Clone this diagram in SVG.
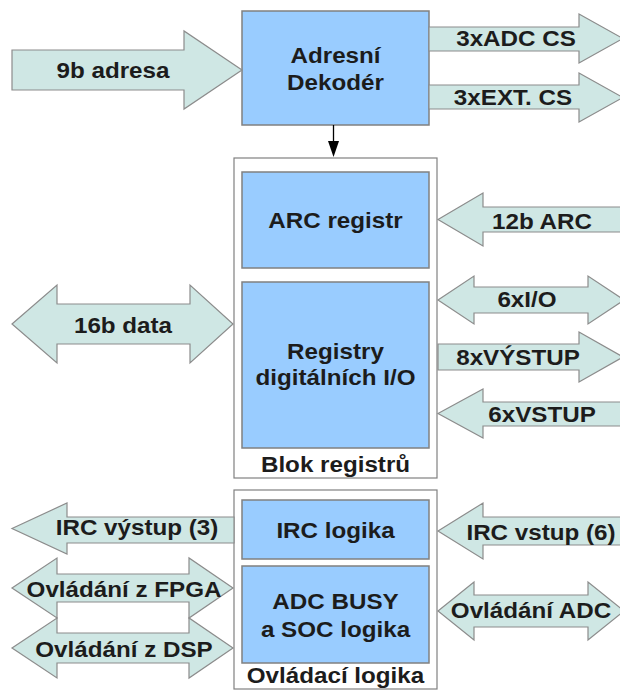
<svg xmlns="http://www.w3.org/2000/svg" width="620" height="690" viewBox="0 0 620 690">
<style>
.box{fill:#99ccff;stroke:#808080;stroke-width:1.5}
.cont{fill:#ffffff;stroke:#808080;stroke-width:1.2}
.arr{fill:#cfe7e4;stroke:#8c8c8c;stroke-width:1.2;stroke-linejoin:miter}
.t{font-family:"Liberation Sans",Arial,sans-serif;font-weight:bold;font-size:22px;fill:#1c1c1c;text-anchor:middle}
</style>
<rect width="620" height="690" fill="#ffffff"/>
<g id="decoder">
<rect class="box" x="242" y="11" width="187" height="114"/>
<text class="t" transform="translate(335.5 63) scale(1.1 1)">Adresní</text>
<text class="t" transform="translate(335.5 90) scale(1.1 1)">Dekodér</text>
</g>
<g id="blok-registru">
<rect class="cont" x="234" y="158" width="203" height="320"/>
<text class="t" transform="translate(335.5 472) scale(1.1 1)">Blok registrů</text>
</g>
<g id="arc-registr">
<rect class="box" x="242" y="172" width="187" height="96"/>
<text class="t" transform="translate(335.5 228) scale(1.1 1)">ARC registr</text>
</g>
<g id="registry-io">
<rect class="box" x="242" y="282" width="187" height="166"/>
<text class="t" transform="translate(335.5 359) scale(1.1 1)">Registry</text>
<text class="t" transform="translate(335.5 385) scale(1.1 1)">digitálních I/O</text>
</g>
<g id="ovladaci-logika">
<rect class="cont" x="234" y="490" width="203" height="199"/>
<text class="t" transform="translate(335.5 683) scale(1.1 1)">Ovládací logika</text>
</g>
<g id="irc-logika">
<rect class="box" x="242" y="500" width="187" height="59"/>
<text class="t" transform="translate(335.5 538) scale(1.1 1)">IRC logika</text>
</g>
<g id="adc-busy">
<rect class="box" x="242" y="566" width="187" height="97"/>
<text class="t" transform="translate(335.5 609) scale(1.1 1)">ADC BUSY</text>
<text class="t" transform="translate(335.5 637) scale(1.1 1)">a SOC logika</text>
</g>
<g id="connectors">
<line x1="333.5" y1="125" x2="333.5" y2="142" stroke="#000" stroke-width="1.3"/>
<polygon points="328,141 339,141 333.5,157" fill="#000"/>
<polygon class="arr" points="12,50 184,50 184,31 242,70 184,109 184,90 12,90"/>
<text class="t" transform="translate(113 78) scale(1.1 1)">9b adresa</text>
<polygon class="arr" points="429,27 579,27 579,14 623,38.5 579,63 579,51 429,51"/>
<text class="t" transform="translate(516 46) scale(1.1 1)">3xADC CS</text>
<polygon class="arr" points="429,85 579,85 579,73 623,97.5 579,122 579,109 429,109"/>
<text class="t" transform="translate(513 105) scale(1.1 1)">3xEXT. CS</text>
<polygon class="arr" points="12,324 57,285 57,304 190,304 190,285 233,324 190,363 190,344 57,344 57,363"/>
<text class="t" transform="translate(123 333) scale(1.1 1)">16b data</text>
<polygon class="arr" points="438,219.5 483,193 483,207 625,207 625,232 483,232 483,246"/>
<text class="t" transform="translate(542 229) scale(1.1 1)">12b ARC</text>
<polygon class="arr" points="438,300 474,276 474,287 588,287 588,276 624,300 588,324 588,313 474,313 474,324"/>
<text class="t" transform="translate(527 307) scale(1.1 1)">6xI/O</text>
<polygon class="arr" points="438,344 579,344 579,332 623,357 579,382 579,370 438,370"/>
<text class="t" transform="translate(518 365) scale(1.1 1)">8xVÝSTUP</text>
<polygon class="arr" points="438,413.5 483,389 483,402 625,402 625,426 483,426 483,438"/>
<text class="t" transform="translate(542 422) scale(1.1 1)">6xVSTUP</text>
<polygon class="arr" points="12,528.5 67,503 67,517 234,517 234,543 67,543 67,554"/>
<text class="t" transform="translate(137 535) scale(1.1 1)">IRC výstup (3)</text>
<polygon class="arr" points="438,531 483,503 483,517 625,517 625,545 483,545 483,559"/>
<text class="t" transform="translate(541 540) scale(1.1 1)">IRC vstup (6)</text>
<polygon class="arr" points="12,588 57,558 57,574 189,574 189,558 233,588 189,618 189,602 57,602 57,618"/>
<text class="t" transform="translate(124 597) scale(1.1 1)">Ovládání z FPGA</text>
<polygon class="arr" points="12,648 57,618 57,633 189,633 189,618 233,648 189,678 189,663 57,663 57,678"/>
<text class="t" transform="translate(124 657) scale(1.1 1)">Ovládání z DSP</text>
<polygon class="arr" points="438,611 474,582 474,595 588,595 588,582 624,611 588,640 588,627 474,627 474,640"/>
<text class="t" transform="translate(531 618) scale(1.1 1)">Ovládání ADC</text>
</g>
</svg>
